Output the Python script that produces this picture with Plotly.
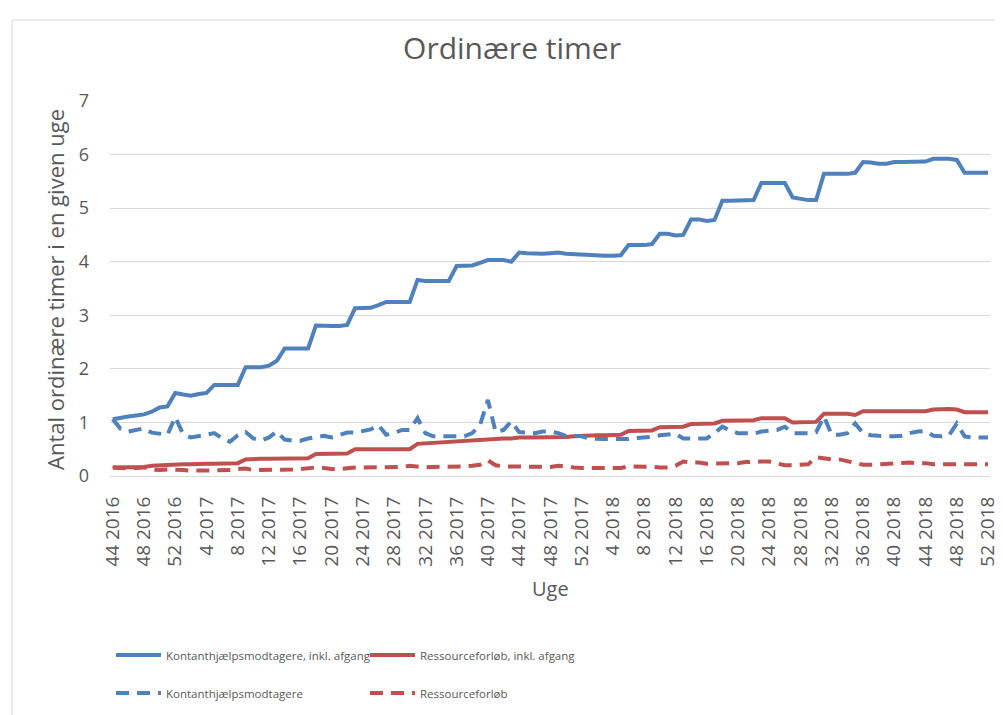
import plotly.graph_objects as go

# ------------------------------------------------------------
# Data
# ------------------------------------------------------------

uge = (
    [f"{w} 2016" for w in range(44, 53)]
    + [f"{w} 2017" for w in range(1, 53)]
    + [f"{w} 2018" for w in range(1, 53)]
)
tick_labels = uge[::4]

kontant_inkl_afgang = [
    1.06, 1.09, 1.11, 1.13, 1.15, 1.20, 1.28, 1.30, 1.55, 1.52,
    1.50, 1.53, 1.55, 1.70, 1.70, 1.70, 1.70, 2.03, 2.03, 2.03,
    2.06, 2.15, 2.38, 2.38, 2.38, 2.38, 2.81, 2.80, 2.80, 2.80,
    2.82, 3.13, 3.13, 3.14, 3.19, 3.25, 3.25, 3.25, 3.25, 3.66,
    3.64, 3.64, 3.64, 3.64, 3.92, 3.92, 3.93, 3.98, 4.03, 4.03,
    4.03, 4.00, 4.17, 4.16, 4.15, 4.15, 4.16, 4.17, 4.15, 4.14,
    4.14, 4.13, 4.11, 4.11, 4.11, 4.12, 4.31, 4.31, 4.31, 4.33,
    4.52, 4.52, 4.49, 4.50, 4.79, 4.79, 4.76, 4.78, 5.14, 5.14,
    5.14, 5.14, 5.15, 5.47, 5.47, 5.47, 5.47, 5.20, 5.18, 5.15,
    5.15, 5.64, 5.64, 5.64, 5.64, 5.66, 5.86, 5.85, 5.83, 5.83,
    5.86, 5.86, 5.86, 5.86, 5.87, 5.92, 5.92, 5.92, 5.90, 5.66,
    5.66, 5.66, 5.66,
]

ressource_inkl_afgang = [
    0.16, 0.16, 0.16, 0.16, 0.17, 0.19, 0.20, 0.21, 0.22, 0.22,
    0.22, 0.23, 0.23, 0.23, 0.23, 0.23, 0.24, 0.31, 0.32, 0.32,
    0.32, 0.32, 0.32, 0.33, 0.33, 0.33, 0.41, 0.41, 0.41, 0.41,
    0.42, 0.50, 0.50, 0.50, 0.50, 0.50, 0.50, 0.50, 0.50, 0.60,
    0.61, 0.62, 0.63, 0.64, 0.65, 0.66, 0.67, 0.67, 0.69, 0.70,
    0.70, 0.70, 0.72, 0.72, 0.72, 0.73, 0.73, 0.73, 0.73, 0.74,
    0.75, 0.76, 0.76, 0.76, 0.76, 0.77, 0.84, 0.84, 0.84, 0.85,
    0.91, 0.91, 0.91, 0.92, 0.97, 0.97, 0.97, 0.98, 1.03, 1.03,
    1.03, 1.04, 1.04, 1.08, 1.08, 1.08, 1.08, 1.00, 1.00, 1.00,
    1.01, 1.16, 1.16, 1.16, 1.16, 1.14, 1.21, 1.21, 1.21, 1.21,
    1.20, 1.20, 1.20, 1.20, 1.21, 1.24, 1.25, 1.25, 1.24, 1.19,
    1.19, 1.19, 1.19,
]

kontant = [
    1.06, 0.88, 0.83, 0.86, 0.89, 0.81, 0.79, 0.77, 1.10, 0.78,
    0.72, 0.74, 0.77, 0.80, 0.70, 0.64, 0.76, 0.82, 0.70, 0.66,
    0.72, 0.83, 0.68, 0.66, 0.66, 0.70, 0.73, 0.75, 0.72, 0.76,
    0.81, 0.81, 0.84, 0.87, 0.95, 0.77, 0.80, 0.86, 0.86, 1.08,
    0.80, 0.74, 0.74, 0.74, 0.74, 0.74, 0.80, 0.95, 1.42, 0.82,
    0.86, 1.02, 0.82, 0.81, 0.80, 0.83, 0.83, 0.80, 0.75, 0.75,
    0.74, 0.70, 0.69, 0.69, 0.69, 0.69, 0.69, 0.71, 0.72, 0.73,
    0.76, 0.78, 0.79, 0.70, 0.70, 0.69, 0.70, 0.80, 0.92, 0.85,
    0.80, 0.80, 0.79, 0.83, 0.84, 0.86, 0.92, 0.80, 0.80, 0.80,
    0.82, 1.11, 0.77, 0.77, 0.80, 0.98, 0.80, 0.76, 0.75, 0.74,
    0.74, 0.75, 0.80, 0.83, 0.84, 0.75, 0.74, 0.76, 0.98, 0.74,
    0.72, 0.72, 0.72,
]

ressource = [
    0.16, 0.15, 0.14, 0.15, 0.16, 0.12, 0.11, 0.12, 0.12, 0.11,
    0.10, 0.10, 0.10, 0.10, 0.10, 0.11, 0.13, 0.14, 0.11, 0.11,
    0.12, 0.12, 0.12, 0.12, 0.13, 0.15, 0.16, 0.15, 0.13, 0.13,
    0.15, 0.16, 0.16, 0.16, 0.16, 0.16, 0.16, 0.17, 0.19, 0.17,
    0.16, 0.17, 0.17, 0.18, 0.18, 0.18, 0.19, 0.21, 0.29, 0.20,
    0.18, 0.18, 0.18, 0.18, 0.17, 0.17, 0.17, 0.19, 0.17, 0.16,
    0.15, 0.15, 0.15, 0.15, 0.15, 0.15, 0.18, 0.18, 0.18, 0.17,
    0.16, 0.16, 0.19, 0.27, 0.25, 0.25, 0.23, 0.23, 0.24, 0.24,
    0.24, 0.26, 0.27, 0.27, 0.27, 0.24, 0.20, 0.20, 0.21, 0.22,
    0.35, 0.33, 0.31, 0.31, 0.28, 0.25, 0.21, 0.21, 0.22, 0.23,
    0.24, 0.24, 0.25, 0.24, 0.24, 0.22, 0.22, 0.22, 0.22, 0.22,
    0.22, 0.22, 0.22,
]

# ------------------------------------------------------------
# Figure
# ------------------------------------------------------------

BLUE = "#4f81bd"
RED = "#c0504d"
GREY = "#595959"
GRID = "#d9d9d9"
FONT = "Open Sans"

# the page body has an 8px margin, so the figure is a bit smaller
PAGE_PAD = 8
FIG_W = 1003 - PAGE_PAD
FIG_H = 715 - PAGE_PAD

# plot area in page pixels: x 110..990, y 101..476
PLOT_L, PLOT_R, PLOT_T, PLOT_B = 110, 990, 101, 476
PLOT_W = PLOT_R - PLOT_L
PLOT_H = PLOT_B - PLOT_T


def px(x):
    return (x - PLOT_L) / PLOT_W


def py(y):
    return (PLOT_B - y) / PLOT_H


def cx(x):
    return (x - PAGE_PAD) / FIG_W


def cy(y):
    return 1 - (y - PAGE_PAD) / FIG_H


fig = go.Figure()

fig.add_trace(go.Scatter(
    x=uge, y=kontant_inkl_afgang, mode="lines",
    name="Kontanthjælpsmodtagere, inkl. afgang",
    line=dict(color=BLUE, width=4),
    legend="legend"
))
fig.add_trace(go.Scatter(
    x=uge, y=ressource_inkl_afgang, mode="lines",
    name="Ressourceforløb, inkl. afgang",
    line=dict(color=RED, width=4),
    legend="legend"
))
fig.add_trace(go.Scatter(
    x=uge, y=kontant, mode="lines",
    name="Kontanthjælpsmodtagere",
    line=dict(color=BLUE, width=4, dash="13px,8px"),
    legend="legend2"
))
fig.add_trace(go.Scatter(
    x=uge, y=ressource, mode="lines",
    name="Ressourceforløb",
    line=dict(color=RED, width=4, dash="13px,8px"),
    legend="legend2"
))

legend_style = dict(
    orientation="h",
    xref="container", yref="container",
    x=cx(111), xanchor="left",
    yanchor="middle",
    font=dict(family=FONT, size=11.5, color=GREY),
    itemwidth=45,
    entrywidth=194, entrywidthmode="pixels",
    bgcolor="rgba(0,0,0,0)",
)

fig.update_layout(
    width=FIG_W,
    height=FIG_H,
    plot_bgcolor="white",
    paper_bgcolor="white",
    margin=dict(
        l=PLOT_L - PAGE_PAD,
        r=FIG_W - (PLOT_R - PAGE_PAD),
        t=PLOT_T - PAGE_PAD,
        b=FIG_H - (PLOT_B - PAGE_PAD),
    ),
    title=dict(
        text="Ordinære timer",
        x=cx(512), xanchor="center",
        y=cy(48), yanchor="middle",
        font=dict(family=FONT, size=30, color=GREY)
    ),
    legend=dict(legend_style, y=cy(655)),
    legend2=dict(legend_style, y=cy(693)),
    xaxis=dict(
        type="category",
        range=[-0.35, 112.25],
        tickvals=tick_labels,
        ticktext=tick_labels,
        tickangle=-90,
        tickfont=dict(family=FONT, size=19, color=GREY),
        ticklabelstandoff=12,
        showgrid=False,
        showline=True,
        linecolor=GRID,
        automargin=False,
    ),
    yaxis=dict(
        range=[0, 7],
        dtick=1,
        tickfont=dict(family=FONT, size=18, color=GREY),
        ticklabelstandoff=20,
        showgrid=True,
        gridcolor=GRID,
        zeroline=True,
        zerolinecolor=GRID,
        automargin=False,
    ),
    showlegend=True,
)

# axis titles
fig.add_annotation(
    text="Antal ordinære timer i en given uge",
    xref="paper", yref="paper",
    x=px(55), y=py(290),
    xanchor="center", yanchor="middle",
    textangle=-90, showarrow=False,
    font=dict(family=FONT, size=22, color=GREY)
)
fig.add_annotation(
    text="Uge",
    xref="paper", yref="paper",
    x=0.5, y=py(588),
    xanchor="center", yanchor="middle", showarrow=False,
    font=dict(family=FONT, size=20, color=GREY)
)

# chart border
fig.add_shape(
    type="rect", xref="paper", yref="paper",
    x0=px(12), x1=px(1010),
    y0=py(730), y1=py(20),
    line=dict(color=GRID, width=1),
    layer="below"
)

fig.write_html("out.html")
